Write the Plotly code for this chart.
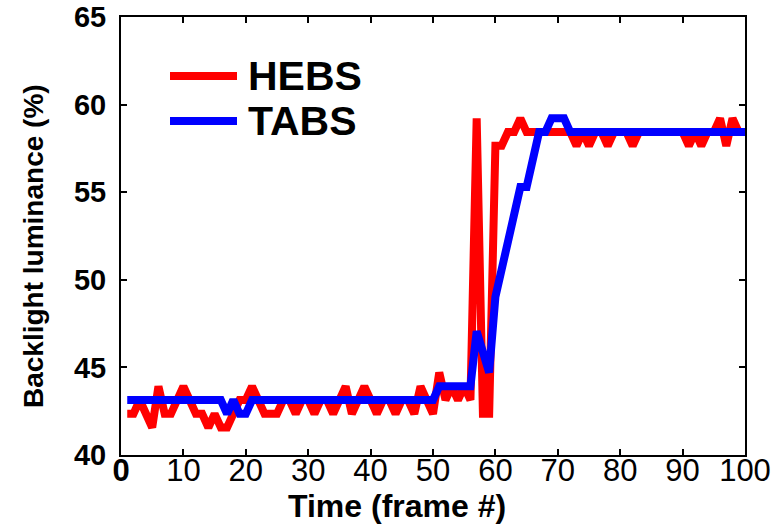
import plotly.graph_objects as go

# ---- data ----
frames = list(range(1, 101))

hebs = [42.35, 42.35, 43.14, 42.35, 41.57, 43.92, 42.35, 42.35, 43.14, 43.92,
        43.14, 42.35, 42.35, 41.57, 42.35, 41.57, 41.57, 42.35, 43.14, 43.14,
        43.92, 43.14, 42.35, 42.35, 42.35, 43.14, 43.14, 42.35, 43.14, 43.14,
        42.35, 43.14, 43.14, 42.35, 43.14, 43.92, 42.35, 43.14, 43.92, 43.14,
        42.35, 43.14, 43.14, 42.35, 43.14, 43.14, 42.35, 43.92, 43.14, 42.35,
        44.71, 43.14, 43.92, 43.14, 43.92, 43.14, 59.22, 42.35, 42.35, 57.65,
        57.65, 58.43, 58.43, 59.22, 58.43, 58.43, 58.43, 58.43, 58.43, 58.43,
        58.43, 58.43, 57.65, 58.43, 57.65, 58.43, 58.43, 57.65, 58.43, 58.43,
        58.43, 57.65, 58.43, 58.43, 58.43, 58.43, 58.43, 58.43, 58.43, 58.43,
        57.65, 58.43, 57.65, 58.43, 58.43, 59.22, 57.65, 59.22, 58.43, 58.43]

tabs = [43.14] * 16 + [42.35, 43.14, 42.35, 42.35] + [43.14] * 30 + [43.92] * 6 + \
       [47.06, 45.88, 44.71, 49.02, 50.59, 52.16, 53.73, 55.29, 55.29, 56.86,
        58.43, 58.43, 59.22, 59.22, 59.22] + [58.43] * 29

series_names = ["HEBS", "TABS"]
series_colors = ["#FF0000", "#0000FF"]

x_tickvals = [0, 10, 20, 30, 40, 50, 60, 70, 80, 90, 100]
x_ticktext = ["<b>0</b>", "10", "20", "30", "40", "50", "60", "70", "80", "90", "100"]
y_tickvals = [40, 45, 50, 55, 60, 65]

x_title = "Time (frame #)"
y_title = "Backlight luminance (%)"

FONT = "Liberation Sans, Arial, sans-serif"

fig = go.Figure()
for name, vals, col in zip(series_names, [hebs, tabs], series_colors):
    fig.add_trace(go.Scatter(x=frames, y=vals, mode="lines", name=name,
                             line=dict(color=col, width=8), showlegend=False))

L, R, T, B = 121, 28, 17, 70
W, H = 773, 525
pw, ph = W - L - R, H - T - B

def px2paper_x(px):
    return (px - L) / pw

def px2paper_y(py):
    return (H - B - py) / ph

# manual legend (long line samples like the original)
shapes = []
annotations = []
for i, (name, col) in enumerate(zip(series_names, series_colors)):
    yy = px2paper_y(76 + 45 * i)
    shapes.append(dict(type="line", xref="paper", yref="paper",
                       x0=px2paper_x(170), x1=px2paper_x(237), y0=yy, y1=yy,
                       line=dict(color=col, width=8)))
    annotations.append(dict(text=name, xref="paper", yref="paper",
                            x=px2paper_x(246), y=yy, xanchor="left", yanchor="middle",
                            showarrow=False,
                            font=dict(family=FONT, size=41, color="black", weight="bold")))

annotations.append(dict(text=x_title, xref="paper", yref="paper",
                        x=px2paper_x(397), y=px2paper_y(506), xanchor="center", yanchor="middle",
                        showarrow=False,
                        font=dict(family=FONT, size=32, color="black", weight="bold")))
annotations.append(dict(text=y_title, xref="paper", yref="paper", textangle=-90,
                        x=px2paper_x(34), y=px2paper_y(246), xanchor="center", yanchor="middle",
                        showarrow=False,
                        font=dict(family=FONT, size=28, color="black", weight="bold")))

fig.update_layout(
    width=W, height=H, autosize=False,
    margin=dict(l=L, r=R, t=T, b=B, pad=0, autoexpand=False),
    paper_bgcolor="white", plot_bgcolor="white",
    shapes=shapes, annotations=annotations,
    xaxis=dict(range=[0, 100], tickvals=x_tickvals, ticktext=x_ticktext,
               ticks="inside", ticklen=6, tickwidth=1.5, tickcolor="black",
               showline=True, linecolor="black", linewidth=2, mirror="ticks",
               showgrid=False, zeroline=False, automargin=False,
               ticklabelstandoff=-13,
               tickfont=dict(family=FONT, size=31, color="black")),
    yaxis=dict(range=[40, 65], tickvals=y_tickvals,
               ticks="inside", ticklen=6, tickwidth=1.5, tickcolor="black",
               showline=True, linecolor="black", linewidth=2, mirror="ticks",
               showgrid=False, zeroline=False, automargin=False, ticklabelstandoff=7,
               tickfont=dict(family=FONT, size=29, color="black", weight="bold")),
)

fig.write_html("out.html")
